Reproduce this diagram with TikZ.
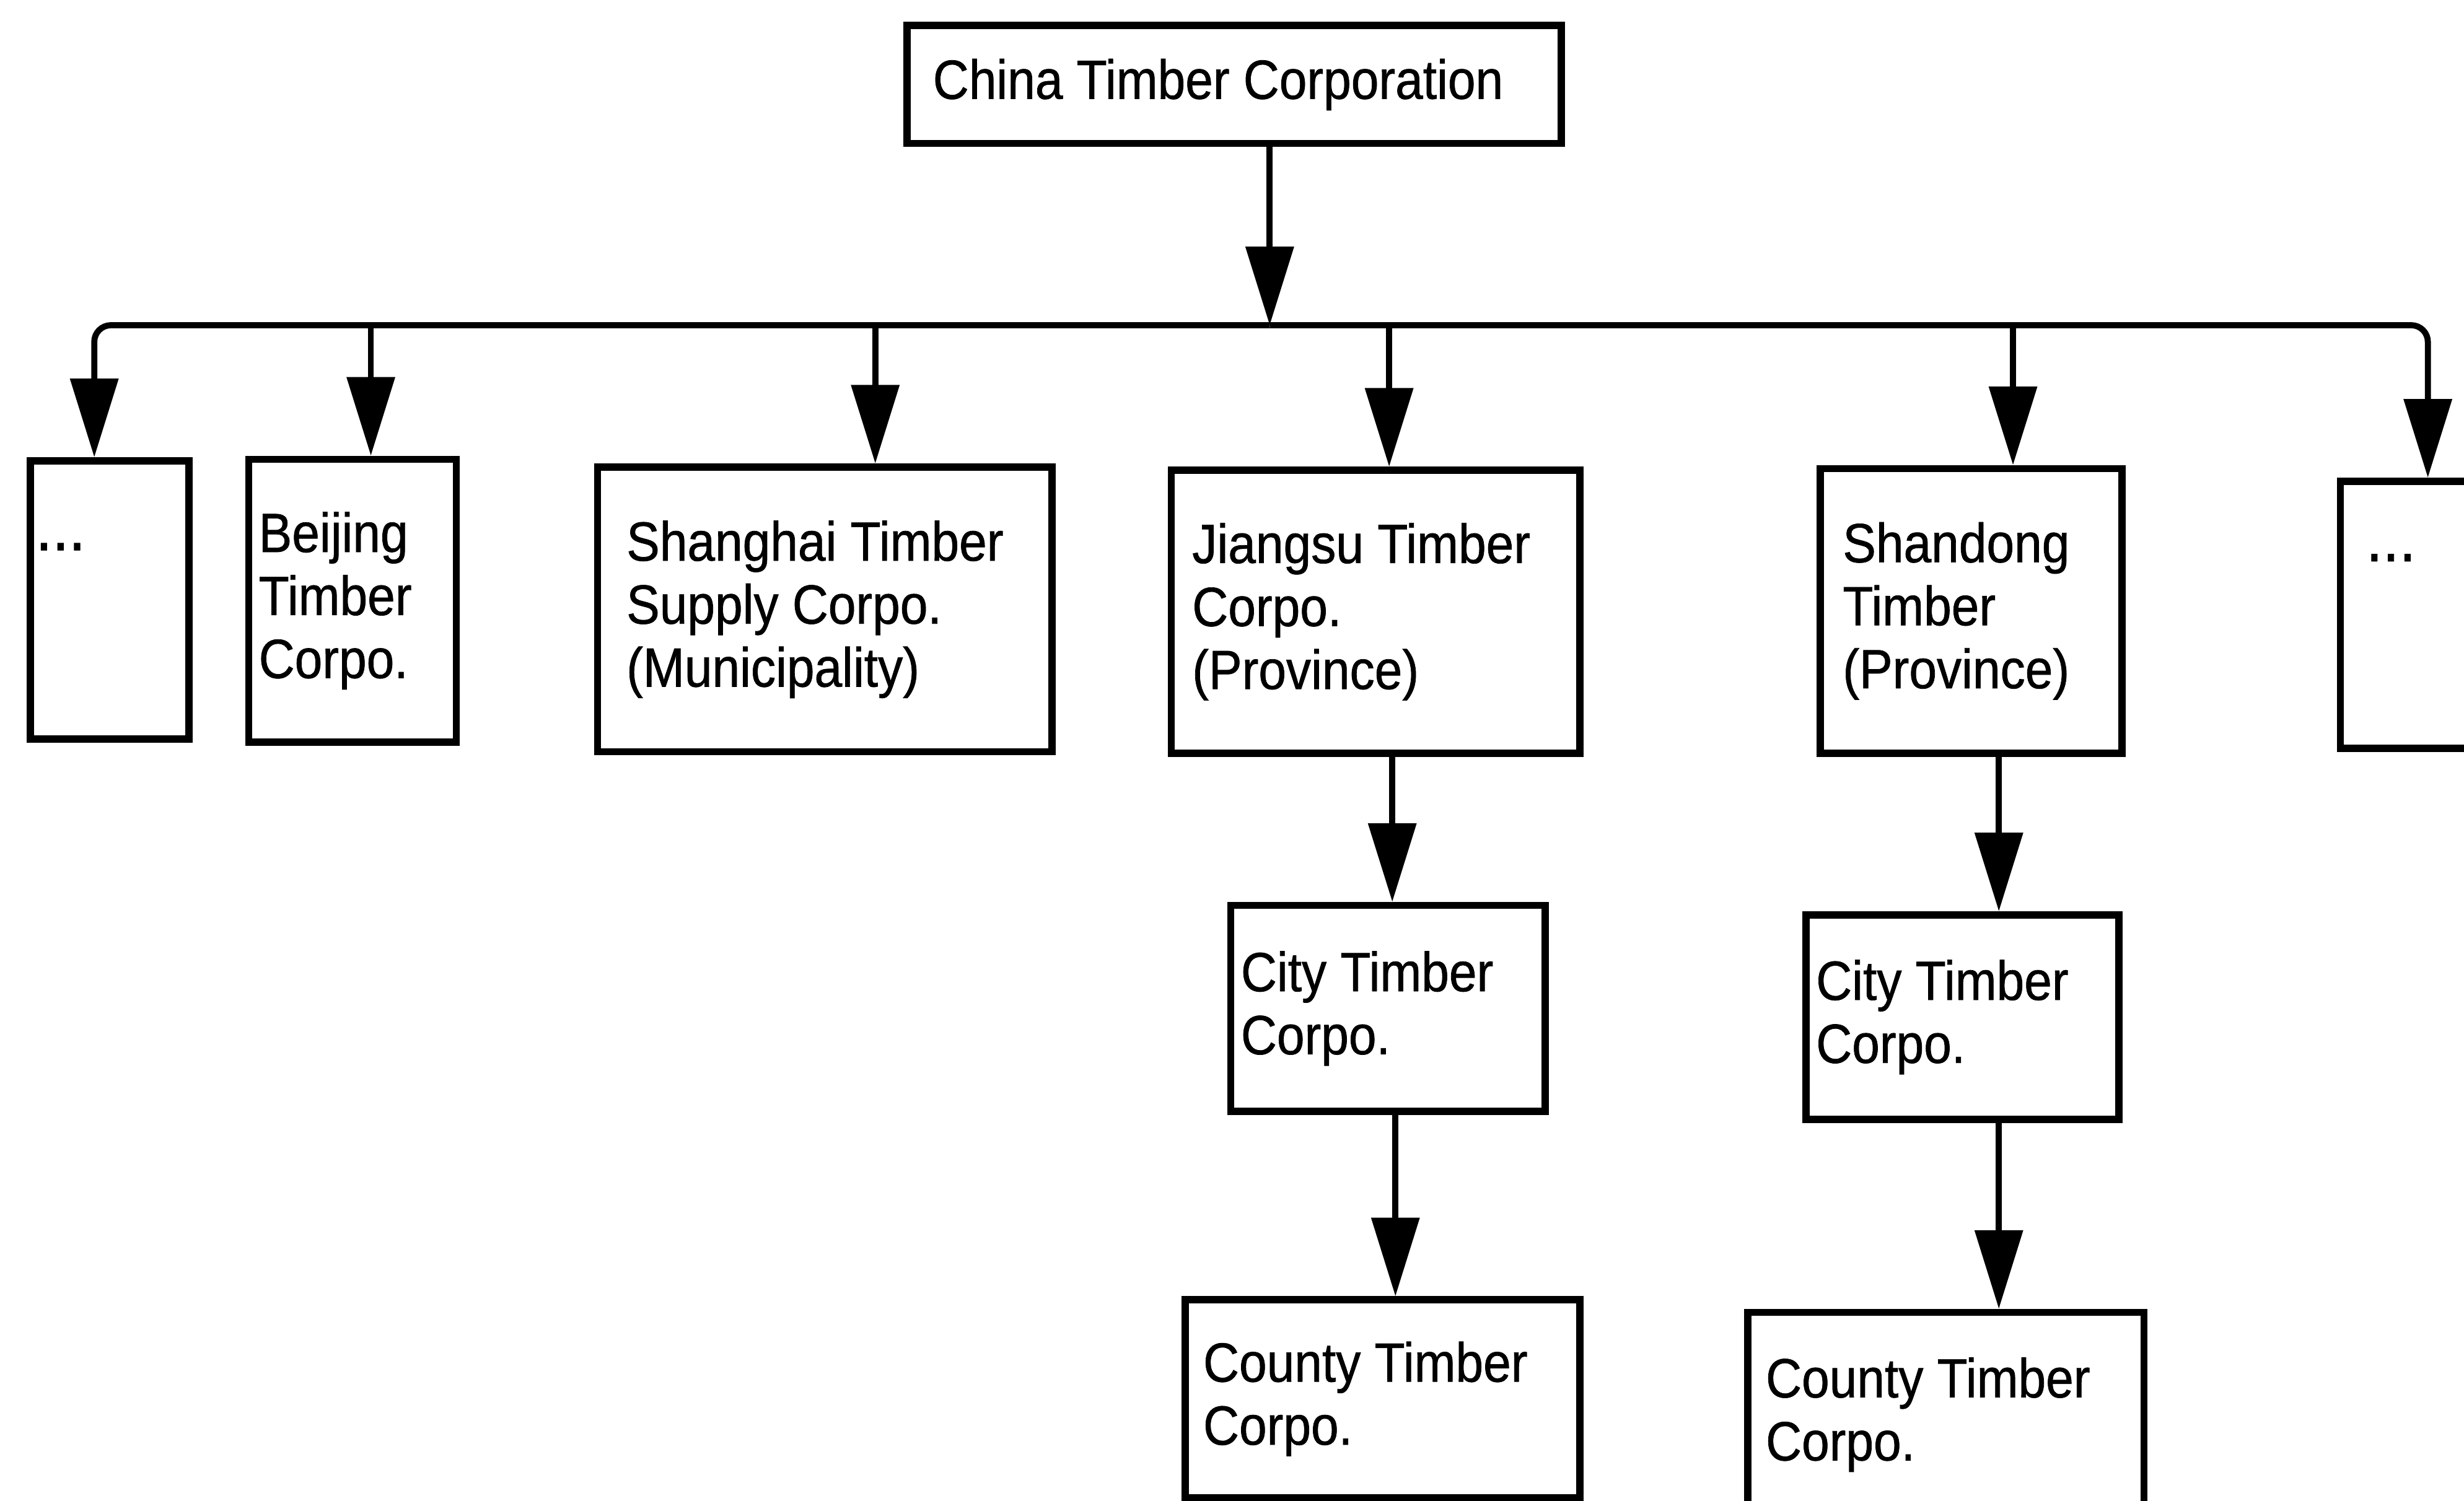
\documentclass[tikz,border=0pt]{standalone}
\usepackage{fontspec}
\setmainfont{Liberation Sans}[FakeStretch=0.9,FakeBold=0.8]
\usetikzlibrary{arrows.meta}
\begin{document}
\begin{tikzpicture}[x=0.01cm,y=-0.01cm,
  box/.style={draw, line width=1.3pt, inner sep=0pt, anchor=north west},
  lbl/.style={inner sep=0pt, align=left, font=\fontsize{10}{11.4}\selectfont, anchor=west},
  conn/.style={line width=1.1pt},
  arr/.style={conn, -{Triangle[length=5mm,width=3mm]}}]
\useasboundingbox (0,0) rectangle (1568,955);
\clip (0,0) rectangle (1568,955);
% boxes
\node[box, minimum width=4.16cm, minimum height=0.75cm] (top) at (575,14) {};
\node[box, minimum width=1.01cm, minimum height=1.77cm] (dots1) at (17,291) {};
\node[box, minimum width=1.32cm, minimum height=1.80cm] (beijing) at (156,290) {};
\node[box, minimum width=2.89cm, minimum height=1.81cm] (shanghai) at (378,295) {};
\node[box, minimum width=2.60cm, minimum height=1.80cm] (jiangsu) at (743,297) {};
\node[box, minimum width=1.92cm, minimum height=1.81cm] (shandong) at (1156,296) {};
\node[box, minimum width=1.50cm, minimum height=1.70cm] (dots2) at (1487,304) {};
\node[box, minimum width=2.00cm, minimum height=1.31cm] (city1) at (781,574) {};
\node[box, minimum width=2.51cm, minimum height=1.26cm] (county1) at (752,825) {};
\node[box, minimum width=1.99cm, minimum height=1.30cm] (city2) at (1147,580) {};
\node[box, minimum width=2.52cm, minimum height=1.30cm] (county2) at (1110,833) {};
% labels
\node[lbl] (topT) at ([shift={(18,0)}]top.west) {China Timber Corporation};
\node[lbl, anchor=north west] (dots1T) at ([shift={(5,54)}]dots1.north west) {\fontsize{12}{12}\selectfont ...};
\node[lbl] (beijingT) at ([shift={(8,0)}]beijing.west) {Beijing\\Timber\\Corpo.};
\node[lbl] (shanghaiT) at ([shift={(20,0)}]shanghai.west) {Shanghai Timber\\Supply Corpo.\\(Municipality)};
\node[lbl] (jiangsuT) at ([shift={(15,0)}]jiangsu.west) {Jiangsu Timber\\Corpo.\\(Province)};
\node[lbl] (shandongT) at ([shift={(16,0)}]shandong.west) {Shandong\\Timber\\(Province)};
\node[lbl, anchor=north west] (dots2T) at ([shift={(18,48)}]dots2.north west) {\fontsize{12}{12}\selectfont ...};
\node[lbl] (city1T) at ([shift={(8,0)}]city1.west) {City Timber\\Corpo.};
\node[lbl] (county1T) at ([shift={(13,0)}]county1.west) {County Timber\\Corpo.};
\node[lbl] (city2T) at ([shift={(8,0)}]city2.west) {City Timber\\Corpo.};
\node[lbl] (county2T) at ([shift={(13,0)}]county2.west) {County Timber\\Corpo.};
% junction coordinates
\coordinate (bus) at (808,207);
\coordinate (x1) at (60,0);
\coordinate (x2) at (236,0);
\coordinate (x3) at (557,0);
\coordinate (x4) at (884,0);
\coordinate (x5) at (1281,0);
\coordinate (x6) at (1545,0);
\coordinate (c1) at (886,0);
\coordinate (c2) at (888,0);
\coordinate (c3) at (1272,0);
% connectors
\draw[arr] (top.south -| bus) -- (bus);
\draw[arr, rounded corners=3pt] (bus) -| (dots1.north -| x1);
\draw[arr, rounded corners=3pt] (bus) -| (dots2.north -| x6);
\draw[arr] (bus -| x2) -- (beijing.north -| x2);
\draw[arr] (bus -| x3) -- (shanghai.north -| x3);
\draw[arr] (bus -| x4) -- (jiangsu.north -| x4);
\draw[arr] (bus -| x5) -- (shandong.north -| x5);
\draw[arr] (jiangsu.south -| c1) -- (city1.north -| c1);
\draw[arr] (city1.south -| c2) -- (county1.north -| c2);
\draw[arr] (shandong.south -| c3) -- (city2.north -| c3);
\draw[arr] (city2.south -| c3) -- (county2.north -| c3);
\end{tikzpicture}
\end{document}
